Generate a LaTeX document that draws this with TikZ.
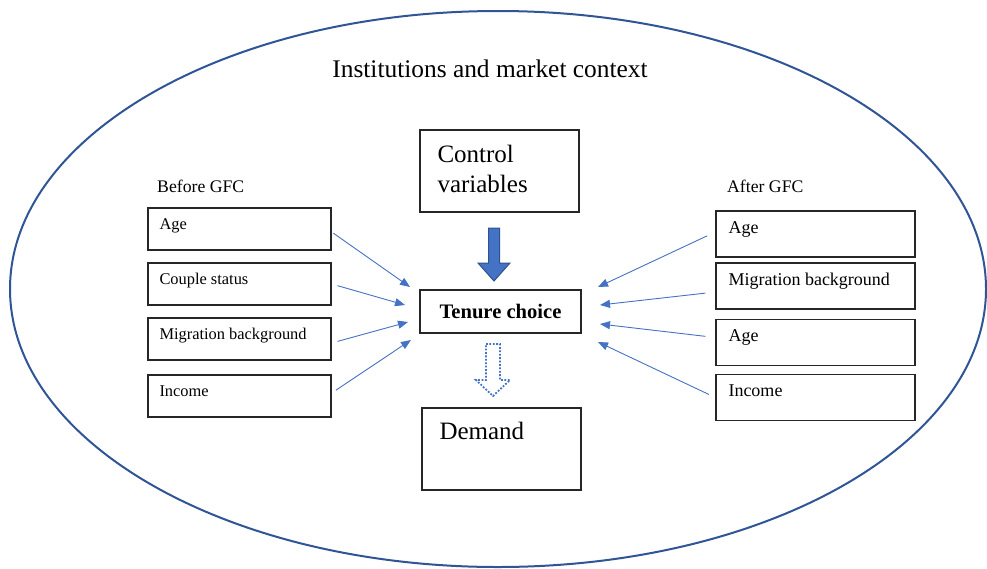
\documentclass[tikz,border=0pt]{standalone}
\usepackage{fontspec}
\setmainfont{Liberation Serif}
\usetikzlibrary{arrows.meta,calc}

\definecolor{ctxblue}{RGB}{47,85,151}
\definecolor{arrblue}{RGB}{68,114,196}
\definecolor{arredge}{RGB}{47,82,143}

\begin{document}
\begin{tikzpicture}[x=1pt,y=-1pt,
    varbox/.style={draw=black!85, line width=1.4pt, inner sep=0pt},
    leftbox/.style={varbox, minimum width=183pt, minimum height=42pt},
    rightbox/.style={varbox, minimum width=199pt, minimum height=46pt},
    bigbox/.style={varbox, minimum width=159pt, minimum height=82pt},
    lefttext/.style={anchor=base west, inner sep=0pt, font=\fontsize{16.4}{18}\selectfont},
    righttext/.style={anchor=base west, inner sep=0pt, font=\fontsize{18}{20}\selectfont},
    headtext/.style={anchor=base west, inner sep=0pt, font=\fontsize{17.7}{20}\selectfont},
    bigtext/.style={anchor=base west, inner sep=0pt, align=left, font=\fontsize{25}{30}\selectfont},
    thinarrow/.style={draw=arrblue, line width=0.9pt, -{Triangle[length=10pt,width=8pt]}},
    solidblock/.style={fill=arrblue, draw=arredge, line width=1pt},
    dottedblock/.style={draw=arrblue, line width=1.8pt, dash pattern=on 1.8pt off 1.6pt}]
\useasboundingbox (0,0) rectangle (987,568);

% context
\draw[ctxblue, line width=2pt] (498,289) ellipse (488 and 278);
\node[anchor=base, inner sep=0pt, font=\fontsize{25.4}{30}\selectfont] (title) at (490,77) {Institutions and market context};

% centre column
\node[bigbox] (cv) at (499.5,171) {};
\node[bigtext] (cvtxt) at ($(cv.north west)+(18,63)$) {Control\\variables};
\node[varbox, minimum width=161pt, minimum height=43pt, font=\bfseries\fontsize{20.6}{24}\selectfont] (tc) at (500.5,311.5) {Tenure choice};
\node[bigbox] (dm) at (501.5,449) {};
\node[bigtext] (dmtxt) at ($(dm.north west)+(18,32)$) {Demand};

% block arrows
\draw[solidblock] (488.5,228) -- ++(11,0) -- ++(0,35) -- ++(10.5,0) -- (494,281) -- ++(-16,-18) -- ++(10.5,0) -- cycle;
\draw[dottedblock] (486,344) -- ++(14,0) -- ++(0,36) -- ++(10,0) -- (493,396) -- ++(-17,-16) -- ++(10,0) -- cycle;

% before GFC
\node[headtext] (before) at (157,192) {Before GFC};
\foreach \name/\yc/\txt in {b1/229/Age, b2/284/Couple status, b3/339/Migration background, b4/396/Income} {
    \node[leftbox] (\name) at (239.5,\yc) {};
    \node[lefttext] (\name txt) at ($(\name.north west)+(12,22)$) {\txt};
}

% after GFC
\node[headtext] (after) at (727,192) {After GFC};
\foreach \name/\yc/\txt in {a1/234/Age, a2/286/Migration background, a3/342.5/Age, a4/397.5/Income} {
    \node[rightbox] (\name) at (815.5,\yc) {};
    \node[righttext] (\name txt) at ($(\name.north west)+(13,23)$) {\txt};
}

% arrow ends at tenure choice
\coordinate (in1) at (410,287);
\coordinate (in2) at (405,305);
\coordinate (in3) at (408,322);
\coordinate (in4) at (411,340);
\coordinate (out1) at (598,287);
\coordinate (out2) at (600,305);
\coordinate (out3) at (600,324);
\coordinate (out4) at (598,342);

\draw[thinarrow, shorten <=2pt] ($(b1.east)+(0,3)$) -- (in1);
\draw[thinarrow, shorten <=6pt] (b2.east) -- (in2);
\draw[thinarrow, shorten <=6pt] ($(b3.east)+(0,4)$) -- (in3);
\draw[thinarrow, shorten <=5pt] ($(b4.east)+(0,-3)$) -- (in4);
\draw[thinarrow, shorten <=9pt] ($(a1.west)+(0,-2)$) -- (out1);
\draw[thinarrow, shorten <=10pt] ($(a2.west)+(0,6)$) -- (out2);
\draw[thinarrow, shorten <=10pt] ($(a3.west)+(0,-5)$) -- (out3);
\draw[thinarrow, shorten <=7pt] (a4.west) -- (out4);
\end{tikzpicture}
\end{document}
